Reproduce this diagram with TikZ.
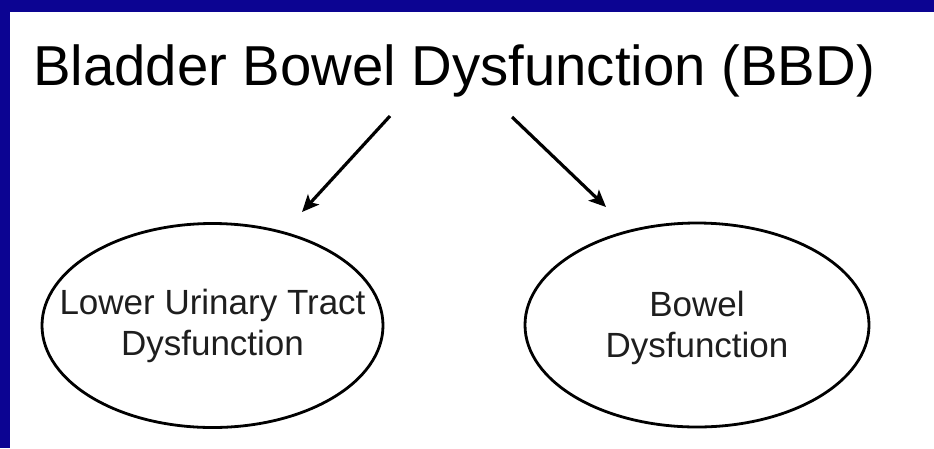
\documentclass[tikz,border=0pt]{standalone}
\usepackage{fontspec}
\setmainfont{Liberation Sans}
\usetikzlibrary{arrows.meta, positioning, shapes.geometric}

\definecolor{slideblue}{RGB}{12,4,146}
\definecolor{inktext}{RGB}{30,30,30}

\begin{document}
\begin{tikzpicture}[
    x=1pt, y=-1pt,
    part/.style={ellipse, draw, line width=2.8pt, inner sep=0pt,
        minimum width=341pt, minimum height=204pt},
    partlabel/.style={align=center, inner sep=0pt, text=inktext,
        font=\fontsize{35}{41}\selectfont},
    heading/.style={anchor=base west, inner sep=0pt, font=\fontsize{56.3}{60}\selectfont},
    link/.style={-{Stealth[length=17pt, width=15pt, inset=4pt]}, line width=3.2pt},
]

% Frame of the slide
\useasboundingbox (0,0) rectangle (934,448);
\fill[white] (0,0) rectangle (934,448);
\fill[slideblue] (0,0) rectangle (934,12);
\fill[slideblue] (0,0) rectangle (10,448);

% Title and the two parts
\node[heading] (bbd) at (33,85) {Bladder Bowel Dysfunction (BBD)};
\node[part] (lut) at (212.5,325.5) {};
\node[part, minimum width=344pt] (bowel) at (697,325) {};
\node[partlabel] (luttext) at (lut.center) {Lower Urinary Tract\\Dysfunction};
\node[partlabel] (boweltext) at ([yshift=-3pt]bowel.center) {Bowel\\Dysfunction};

% Arrow ends
\coordinate (lutstart) at (390,116);
\coordinate (lutend) at (302,212);
\coordinate (bowelstart) at (512,117);
\coordinate (bowelend) at (606,207);

\draw[link] (lutstart) -- (lutend);
\draw[link] (bowelstart) -- (bowelend);

\end{tikzpicture}
\end{document}
